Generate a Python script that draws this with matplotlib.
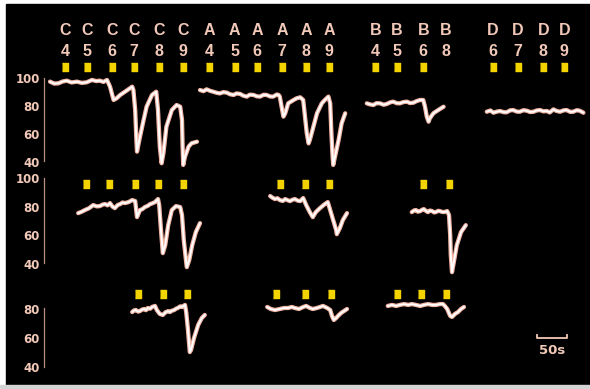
import matplotlib
matplotlib.use("Agg")
import matplotlib.pyplot as plt
from matplotlib.patches import Rectangle

# drug / concentration labels across the top, with their application times (s)
drug_letters = ["C", "C", "C", "C", "C", "C", "A", "A", "A", "A", "A", "A",
                "B", "B", "B", "B", "D", "D", "D", "D"]
drug_numbers = ["4", "5", "6", "7", "8", "9", "4", "5", "6", "7", "8", "9",
                "4", "5", "6", "8", "6", "7", "8", "9"]
label_times = [35, 72, 113, 150, 192, 232, 275, 318, 355, 397, 437, 475,
               552, 588, 632, 670, 748, 790, 832, 867]

# application markers per row (s)
stim_row1 = [35, 72, 113, 150, 192, 232, 275, 318, 355, 397, 437, 475,
             552, 588, 632, 748, 790, 832, 867]
stim_row2 = [70, 108, 152, 190, 232, 393, 435, 475, 632, 675]
stim_row3 = [157, 198, 238, 387, 435, 478, 588, 628, 670]

# row 1 recordings (time s, % of control)
c1_t = [10, 17, 24, 31, 38, 46, 55, 63, 71, 80, 87, 93, 99, 105, 110, 116, 121,
        127, 135, 143, 147, 149, 152, 154, 155, 160, 166, 171, 180, 187, 190,
        193, 196, 199, 204, 213, 221, 227, 230, 231, 232, 235, 241, 246, 255]
c1_v = [97.4, 96.0, 96.2, 97.5, 98.1, 96.8, 97.4, 96.5, 96.9, 98.6, 97.8, 98.1,
        97.2, 98.6, 93.8, 84.3, 85.5, 87.9, 90.2, 92.6, 93.8, 91.4, 77.1, 55.7,
        47.4, 58.1, 70.0, 79.5, 87.9, 90.2, 77.1, 51.0, 39.1, 46.2, 65.2, 77.1,
        80.7, 79.5, 70.0, 51.0, 37.9, 43.8, 51.0, 53.4, 54.5]
a1_t = [260, 266, 271, 277, 282, 288, 293, 299, 305, 310, 316, 321, 327, 332,
        338, 343, 349, 355, 360, 366, 371, 377, 382, 388, 391, 393, 396, 399,
        402, 407, 416, 421, 427, 432, 435, 438, 441, 443, 449, 455, 463, 468,
        474, 477, 479, 481, 482, 485, 491, 496, 502]
a1_v = [91.4, 90.6, 91.9, 90.8, 90.2, 89.4, 89.0, 89.9, 89.5, 88.4, 87.9, 89.0,
        88.6, 87.4, 86.7, 88.1, 87.9, 86.9, 86.7, 88.0, 87.9, 86.8, 86.7, 88.2,
        87.9, 86.7, 79.5, 72.4, 74.8, 81.9, 84.3, 85.5, 86.2, 84.3, 72.4, 60.5,
        53.3, 55.7, 65.2, 74.8, 81.9, 84.3, 86.7, 81.9, 60.5, 43.8, 37.9, 43.8,
        55.7, 67.6, 74.8]
b1_t = [538, 543, 549, 554, 560, 566, 571, 577, 582, 588, 593, 599, 605, 610,
        616, 621, 627, 632, 635, 638, 641, 643, 649, 657, 666]
b1_v = [81.9, 81.2, 80.7, 82.0, 81.9, 80.9, 81.4, 82.6, 83.1, 82.0, 81.9, 82.8,
        83.1, 82.1, 82.4, 83.5, 84.3, 84.3, 79.5, 72.4, 68.8, 71.2, 74.8, 77.1,
        79.5]
d1_t = [738, 744, 749, 755, 760, 766, 771, 777, 782, 788, 793, 799, 805, 810,
        816, 821, 827, 832, 838, 843, 849, 854, 860, 866, 871, 877, 882, 888,
        893, 899]
d1_v = [75.9, 76.8, 75.2, 76.0, 76.4, 75.6, 75.5, 76.9, 77.1, 76.0, 75.9, 77.0,
        76.6, 75.7, 75.9, 76.8, 77.1, 76.2, 76.4, 75.4, 77.6, 76.5, 75.9, 76.9,
        77.1, 75.8, 75.9, 77.0, 76.6, 75.2]

# row 2 recordings
c2_t = [57, 62, 68, 75, 82, 88, 93, 98, 102, 106, 110, 114, 118, 123, 127, 131,
        135, 141, 147, 152, 155, 160, 164, 168, 173, 177, 181, 185, 190, 192,
        195, 197, 198, 202, 207, 213, 220, 227, 230, 233, 237, 238, 242, 247,
        253, 260]
c2_v = [75.5, 76.3, 77.6, 78.9, 81.1, 80.2, 80.4, 81.5, 81.8, 80.9, 82.5, 80.1,
        79.0, 81.2, 81.8, 82.9, 82.5, 83.2, 84.6, 83.9, 72.7, 77.6, 78.3, 79.7,
        80.6, 81.8, 82.4, 83.2, 85.3, 81.1, 63.6, 53.1, 47.6, 53.1, 67.1, 77.6,
        80.4, 79.7, 74.1, 56.6, 41.3, 37.8, 42.7, 53.1, 62.2, 68.5]
a2_t = [377, 381, 385, 389, 393, 398, 402, 406, 410, 414, 418, 423, 427, 432,
        437, 443, 448, 453, 460, 468, 473, 477, 482, 487, 488, 493, 498, 505]
a2_v = [87.4, 86.2, 85.3, 85.9, 84.6, 84.0, 85.3, 84.5, 83.9, 84.8, 85.3, 84.2,
        83.9, 86.0, 81.1, 76.2, 72.7, 76.2, 79.0, 81.8, 83.2, 77.6, 70.6, 63.6,
        60.8, 65.0, 70.6, 75.5]
b2_t = [613, 617, 620, 623, 627, 630, 633, 637, 640, 643, 647, 650, 653, 657,
        660, 663, 667, 672, 675, 677, 678, 680, 683, 688, 695, 703]
b2_v = [76.2, 77.4, 77.6, 76.5, 76.9, 77.8, 78.3, 76.9, 76.2, 77.3, 76.9, 76.0,
        76.2, 77.1, 76.9, 76.4, 76.2, 76.9, 74.1, 60.1, 46.2, 34.3, 41.3, 53.1,
        62.2, 67.1]

# row 3 recordings
c3_t = [147, 150, 153, 157, 160, 163, 167, 170, 173, 177, 180, 185, 188, 193,
        198, 203, 207, 210, 213, 217, 220, 223, 227, 230, 235, 237, 240, 243,
        245, 250, 257, 263, 268]
c3_v = [77.9, 79.0, 79.3, 78.2, 78.6, 79.5, 80.0, 79.2, 80.7, 80.2, 81.4, 82.1,
        79.3, 76.6, 75.9, 77.9, 78.5, 77.9, 78.8, 79.3, 80.2, 80.7, 81.8, 81.4,
        82.8, 77.9, 65.5, 50.3, 51.7, 60.0, 69.0, 73.8, 75.9]
a3_t = [372, 378, 385, 393, 400, 407, 413, 418, 425, 432, 437, 443, 448, 455,
        460, 465, 472, 477, 480, 483, 487, 490, 495, 500, 505]
a3_v = [81.4, 80.0, 79.3, 80.0, 80.7, 80.7, 81.4, 80.7, 80.0, 81.4, 82.1, 80.7,
        80.0, 80.7, 81.4, 82.1, 80.7, 79.3, 75.2, 72.4, 73.8, 75.2, 77.2, 78.6,
        80.0]
b3_t = [573, 580, 587, 593, 600, 607, 613, 620, 627, 633, 640, 647, 653, 660,
        665, 668, 672, 677, 680, 685, 690, 695, 700]
b3_v = [82.1, 82.8, 82.1, 82.8, 83.4, 82.8, 83.4, 82.8, 82.1, 82.8, 83.4, 82.8,
        82.8, 83.4, 83.4, 82.1, 80.0, 75.2, 74.5, 76.6, 77.9, 80.0, 81.4]

scalebar_start = 822
scalebar_len = 50

TEXT = "#f2c9b9"
TRACE_EDGE = "#f0b4a4"
YELLOW = "#f4d400"
AXIS = "#b88e80"

W, H = 590, 389
fig = plt.figure(figsize=(W / 100, H / 100), dpi=100, facecolor="white")
fig.patches.append(Rectangle((6 / W, 4 / H), 1 - 6 / W, 381 / H,
                             transform=fig.transFigure, color="black", zorder=-10))
fig.patches.append(Rectangle((0, 0), 1, 4 / H, transform=fig.transFigure,
                             color="#d4d4d4", zorder=-10))

# row boxes in pixels: (top of 100 %, bottom of 40 %)
rows = [(78, 162), (178, 264), (280, 367)]
axes = []
for top, bot in rows:
    ax = fig.add_axes([44 / W, 1 - bot / H, 546 / W, (bot - top) / H])
    ax.set_facecolor("none")
    ax.set_xlim(0, 910)
    ax.set_ylim(40, 100)
    for s in ["top", "right", "bottom"]:
        ax.spines[s].set_visible(False)
    ax.spines["left"].set_color(AXIS)
    ax.spines["left"].set_linewidth(0.9)
    ax.set_xticks([])
    ax.tick_params(axis="y", length=0, pad=3, labelcolor=TEXT, labelsize=8.5)
    axes.append(ax)

axes[0].set_yticks([40, 60, 80, 100])
axes[1].set_yticks([40, 60, 80, 100])
axes[2].set_yticks([40, 60, 80])
axes[0].spines["left"].set_bounds(41, 100)
axes[1].spines["left"].set_bounds(41, 100)
axes[2].spines["left"].set_bounds(40, 81)
for ax in axes:
    for lab in ax.get_yticklabels():
        lab.set_fontweight("bold")
        lab.set_family("DejaVu Sans")


def trace(ax, t, v):
    ax.plot(t, v, color=TRACE_EDGE, lw=3.1, solid_joinstyle="round",
            solid_capstyle="round", clip_on=False)
    ax.plot(t, v, color="white", lw=1.4, solid_joinstyle="round",
            solid_capstyle="round", clip_on=False)


trace(axes[0], c1_t, c1_v)
trace(axes[0], a1_t, a1_v)
trace(axes[0], b1_t, b1_v)
trace(axes[0], d1_t, d1_v)
trace(axes[1], c2_t, c2_v)
trace(axes[1], a2_t, a2_v)
trace(axes[1], b2_t, b2_v)
trace(axes[2], c3_t, c3_v)
trace(axes[2], a3_t, a3_v)
trace(axes[2], b3_t, b3_v)

# yellow application markers, slightly taller than wide
box = [(-3, -4), (3, -4), (3, 4), (-3, 4)]
for ax, stims, level in zip(axes, [stim_row1, stim_row2, stim_row3],
                            [1.131, 0.93, 0.839]):
    ax.plot(stims, [level] * len(stims), ls="none", marker=box, ms=5.8,
            color=YELLOW, mec=YELLOW, transform=ax.get_xaxis_transform(),
            clip_on=False)

for letter, num, t in zip(drug_letters, drug_numbers, label_times):
    axes[0].text(t, 1.56, letter, transform=axes[0].get_xaxis_transform(),
                 ha="center", va="center", color=TEXT, fontsize=11.5,
                 fontweight="bold", family="Liberation Sans")
    axes[0].text(t, 1.32, num, transform=axes[0].get_xaxis_transform(),
                 ha="center", va="center", color=TEXT, fontsize=11.5,
                 fontweight="bold", family="Liberation Sans")

# 50 s scale bar
sb = axes[2]
x0, x1 = scalebar_start, scalebar_start + scalebar_len
sb.plot([x0, x0, x1, x1], [62, 60, 60, 62], color=TEXT, lw=1.3, clip_on=False)
sb.text((x0 + x1) / 2, 51.5, f"{scalebar_len}s", ha="center", va="center",
        color=TEXT, fontsize=9.5, fontweight="bold", family="DejaVu Sans")

fig.savefig("out.png", dpi=100, facecolor=fig.get_facecolor())
